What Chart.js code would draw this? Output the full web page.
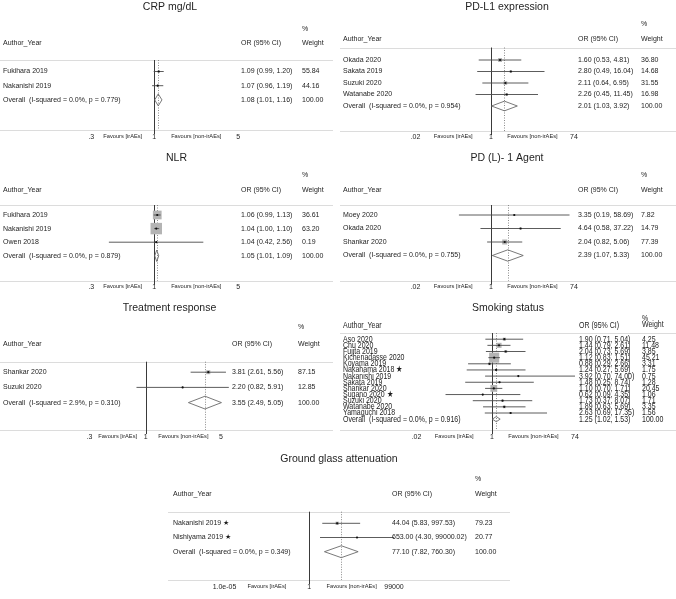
<!DOCTYPE html>
<html>
<head>
<meta charset="utf-8">
<script src="https://cdn.jsdelivr.net/npm/chart.js@4.4.1/dist/chart.umd.min.js"></script>
<style>
  html, body { margin: 0; padding: 0; background: #fff; }
  #wrap { position: relative; width: 676px; height: 599px; overflow: hidden; }
  #wrap canvas { position: absolute; left: 0; top: 0; }
</style>
</head>
<body>
<div id="wrap"></div>
<script>
// ---- data: one block of small arrays per panel ----
var crpStudies = ['Fukihara 2019', 'Nakanishi 2019', 'Overall  (I-squared = 0.0%, p = 0.779)'];
var crpOR = [1.09, 1.07, 1.08];
var crpLow = [0.99, 0.96, 1.01];
var crpHigh = [1.20, 1.19, 1.16];
var crpWeight = [55.84, 44.16, 100.00];
var crpTicks = [0.3, 1, 5];
var crpTickLabels = ['.3', '1', '5'];

var pdl1Studies = ['Okada 2020', 'Sakata 2019', 'Suzuki 2020', 'Watanabe 2020', 'Overall  (I-squared = 0.0%, p = 0.954)'];
var pdl1OR = [1.60, 2.80, 2.11, 2.26, 2.01];
var pdl1Low = [0.53, 0.49, 0.64, 0.45, 1.03];
var pdl1High = [4.81, 16.04, 6.95, 11.45, 3.92];
var pdl1Weight = [36.80, 14.68, 31.55, 16.98, 100.00];
var pdl1Ticks = [0.02, 1, 74];
var pdl1TickLabels = ['.02', '1', '74'];

var nlrStudies = ['Fukihara 2019', 'Nakanishi 2019', 'Owen 2018', 'Overall  (I-squared = 0.0%, p = 0.879)'];
var nlrOR = [1.06, 1.04, 1.04, 1.05];
var nlrLow = [0.99, 1.00, 0.42, 1.01];
var nlrHigh = [1.13, 1.10, 2.56, 1.09];
var nlrWeight = [36.61, 63.20, 0.19, 100.00];
var nlrTicks = [0.3, 1, 5];
var nlrTickLabels = ['.3', '1', '5'];

var agentStudies = ['Moey 2020', 'Okada 2020', 'Shankar 2020', 'Overall  (I-squared = 0.0%, p = 0.755)'];
var agentOR = [3.35, 4.64, 2.04, 2.39];
var agentLow = [0.19, 0.58, 0.82, 1.07];
var agentHigh = [58.69, 37.22, 5.06, 5.33];
var agentWeight = [7.82, 14.79, 77.39, 100.00];
var agentTicks = [0.02, 1, 74];
var agentTickLabels = ['.02', '1', '74'];

var respStudies = ['Shankar 2020', 'Suzuki 2020', 'Overall  (I-squared = 2.9%, p = 0.310)'];
var respOR = [3.81, 2.20, 3.55];
var respLow = [2.61, 0.82, 2.49];
var respHigh = [5.56, 5.91, 5.05];
var respWeight = [87.15, 12.85, 100.00];
var respTicks = [0.3, 1, 5];
var respTickLabels = ['.3', '1', '5'];

var smokeStudies = ['Aso 2020', 'Chu 2020', 'Fujita 2019', 'Kichenadasse 2020', 'Koyama 2019',
  'Nakahama 2018 \u2605', 'Nakanishi 2019', 'Sakata 2019', 'Shankar 2020', 'Sugano 2020 \u2605',
  'Suzuki 2020', 'Watanabe 2020', 'Yamaguchi 2018', 'Overall  (I-squared = 0.0%, p = 0.916)'];
var smokeOR = [1.90, 1.44, 2.04, 1.12, 0.88, 1.24, 3.92, 1.48, 1.10, 0.62, 1.73, 1.89, 2.63, 1.25];
var smokeLow = [0.71, 0.79, 0.73, 0.83, 0.29, 0.27, 0.70, 0.25, 0.70, 0.09, 0.37, 0.63, 0.69, 1.02];
var smokeHigh = [5.04, 2.61, 5.69, 1.51, 2.66, 5.69, 74.00, 8.74, 1.71, 4.35, 8.07, 5.69, 17.35, 1.53];
var smokeWeight = [4.25, 11.48, 3.85, 45.21, 3.31, 1.75, 0.75, 1.28, 20.45, 1.06, 1.71, 3.35, 1.56, 100.00];
var smokeTicks = [0.02, 1, 74];
var smokeTickLabels = ['.02', '1', '74'];

var ggStudies = ['Nakanishi 2019 \u2605', 'Nishiyama 2019 \u2605', 'Overall  (I-squared = 0.0%, p = 0.349)'];
var ggOR = [44.04, 653.00, 77.10];
var ggLow = [5.83, 4.30, 7.82];
var ggHigh = [997.53, 99000.02, 760.30];
var ggWeight = [79.23, 20.77, 100.00];
var ggTicks = [0.00001, 1, 99000];
var ggTickLabels = ['1.0e-05', '1', '99000'];

// ---- layout of each panel on the page ----
var FONT = '"Liberation Sans", Arial, Helvetica, sans-serif';
var panels = [
  { title: 'CRP mg/dL', names: crpStudies, or: crpOR, lo: crpLow, hi: crpHigh, w: crpWeight, ticks: crpTicks, tickLabels: crpTickLabels,
    x0: 0, x1: 333, titleX: 170, titleY: 9.5, colName: 3, colOR: 241, colW: 302, yPct: 29, yHead: 43,
    topLine: 60, axisLine: 130, firstRow: 71.5, rowStep: 14.2, tickY: 137, minPx: 91.3, maxPx: 238.3, boxK: 0.3, sy: 1 },
  { title: 'PD-L1 expression', names: pdl1Studies, or: pdl1OR, lo: pdl1Low, hi: pdl1High, w: pdl1Weight, ticks: pdl1Ticks, tickLabels: pdl1TickLabels,
    x0: 340, x1: 676, titleX: 507, titleY: 10, colName: 343, colOR: 578, colW: 641, yPct: 24.5, yHead: 39.5,
    topLine: 47.5, axisLine: 131, firstRow: 60, rowStep: 11.5, tickY: 136.7, minPx: 415.5, maxPx: 574, boxK: 0.65, sy: 1 },
  { title: 'NLR', names: nlrStudies, or: nlrOR, lo: nlrLow, hi: nlrHigh, w: nlrWeight, ticks: nlrTicks, tickLabels: nlrTickLabels,
    x0: 0, x1: 333, titleX: 176.5, titleY: 161, colName: 3, colOR: 241, colW: 302, yPct: 175, yHead: 190,
    topLine: 205, axisLine: 280.7, firstRow: 215, rowStep: 13.6, tickY: 287, minPx: 91.3, maxPx: 238.3, boxK: 1.44, sy: 1 },
  { title: 'PD (L)- 1 Agent', names: agentStudies, or: agentOR, lo: agentLow, hi: agentHigh, w: agentWeight, ticks: agentTicks, tickLabels: agentTickLabels,
    x0: 340, x1: 676, titleX: 507, titleY: 161, colName: 343, colOR: 578, colW: 641, yPct: 175, yHead: 190,
    topLine: 205, axisLine: 280.7, firstRow: 215, rowStep: 13.5, tickY: 287, minPx: 415.5, maxPx: 574, boxK: 0.57, sy: 1 },
  { title: 'Treatment response', names: respStudies, or: respOR, lo: respLow, hi: respHigh, w: respWeight, ticks: respTicks, tickLabels: respTickLabels,
    x0: 0, x1: 333, titleX: 169.5, titleY: 311, colName: 3, colOR: 232, colW: 298, yPct: 327.5, yHead: 344.5,
    topLine: 361.7, axisLine: 430, firstRow: 372.2, rowStep: 15.2, tickY: 437.3, minPx: 89.5, maxPx: 221, boxK: 0.43, sy: 1 },
  { title: 'Smoking status', names: smokeStudies, or: smokeOR, lo: smokeLow, hi: smokeHigh, w: smokeWeight, ticks: smokeTicks, tickLabels: smokeTickLabels,
    x0: 340, x1: 676, titleX: 508, titleY: 311, colName: 343, colOR: 579, colW: 642, yPct: 319, yHead: 326,
    topLine: 333, axisLine: 430, firstRow: 339.2, rowStep: 6.15, tickY: 437.3, minPx: 416.5, maxPx: 575, boxK: 1.5, sy: 1.25 },
  { title: 'Ground glass attenuation', names: ggStudies, or: ggOR, lo: ggLow, hi: ggHigh, w: ggWeight, ticks: ggTicks, tickLabels: ggTickLabels,
    x0: 168, x1: 510, titleX: 339, titleY: 462, colName: 173, colOR: 392, colW: 475, yPct: 478.7, yHead: 494.5,
    topLine: 511.7, axisLine: 580, firstRow: 523.3, rowStep: 14.2, tickY: 587.3, minPx: 224.5, maxPx: 394, boxK: 0.37, sy: 1 }
];

function txt(ctx, s, x, y, align, size, sy, base) {
  ctx.save();
  ctx.translate(x, y);
  ctx.scale(1, sy || 1);
  ctx.font = size + 'px ' + FONT;
  ctx.fillStyle = '#1e1e1e';
  ctx.textAlign = align;
  ctx.textBaseline = base || 'middle';
  ctx.fillText(s, 0, 0);
  ctx.restore();
}

function seg(ctx, ax, ay, bx, by) {
  ctx.beginPath();
  ctx.moveTo(ax, ay);
  ctx.lineTo(bx, by);
  ctx.stroke();
}

var forestPlugin = {
  id: 'forest',
  beforeDatasetsDraw: function (chart) {
    var p = chart.options.plugins.forest.panel;
    var ctx = chart.ctx, xs = chart.scales.x;
    var n = p.or.length;
    ctx.save();
    ctx.lineWidth = 1;
    ctx.strokeStyle = '#dcdcdc';
    seg(ctx, p.x0, Math.round(p.topLine) + 0.5, p.x1, Math.round(p.topLine) + 0.5);
    seg(ctx, p.x0, Math.round(p.axisLine) + 0.5, p.x1, Math.round(p.axisLine) + 0.5);
    // line of no effect
    var xn = Math.round(xs.getPixelForValue(1)) + 0.5;
    ctx.strokeStyle = '#3a3a3a';
    seg(ctx, xn, p.topLine, xn, p.axisLine + 4);
    // pooled estimate
    var xo = Math.round(xs.getPixelForValue(p.or[n - 1])) + 0.5;
    ctx.strokeStyle = '#8a8a8a';
    ctx.setLineDash([1, 1.5]);
    seg(ctx, xo, p.topLine, xo, p.axisLine);
    ctx.restore();
  },
  afterDatasetsDraw: function (chart) {
    var p = chart.options.plugins.forest.panel;
    var ctx = chart.ctx, xs = chart.scales.x, ys = chart.scales.y;
    var fs = 7;
    txt(ctx, p.title, p.titleX, p.titleY, 'center', 10.5, 1, 'alphabetic');
    txt(ctx, '%', p.colW, p.yPct, 'left', fs, p.sy);
    txt(ctx, 'Author_Year', p.colName, p.yHead, 'left', fs, p.sy);
    txt(ctx, 'OR (95% CI)', p.colOR, p.yHead, 'left', fs, p.sy);
    txt(ctx, 'Weight', p.colW, p.yHead - (p.sy > 1 ? 1 : 0), 'left', fs, p.sy);
    for (var i = 0; i < p.names.length; i++) {
      var y = ys.getPixelForValue(i);
      txt(ctx, p.names[i], p.colName, y, 'left', fs, p.sy);
      txt(ctx, p.or[i].toFixed(2) + ' (' + p.lo[i].toFixed(2) + ', ' + p.hi[i].toFixed(2) + ')', p.colOR, y, 'left', fs, p.sy);
      txt(ctx, p.w[i].toFixed(2), p.colW, y, 'left', fs, p.sy);
    }
    for (var t = 0; t < p.ticks.length; t++) {
      txt(ctx, p.tickLabels[t], xs.getPixelForValue(p.ticks[t]), p.tickY, 'center', fs, 1);
    }
    var xa = xs.getPixelForValue(p.ticks[0]);
    var xn = xs.getPixelForValue(1);
    var xb = xs.getPixelForValue(p.ticks[p.ticks.length - 1]);
    txt(ctx, 'Favours [irAEs]', (xa + xn) / 2, p.tickY - 0.5, 'center', 5.7, 1);
    txt(ctx, 'Favours [non-irAEs]', (xn + xb) / 2, p.tickY - 0.5, 'center', 5.7, 1);
  }
};

function buildPanel(p) {
  var n = p.or.length, last = n - 1;
  var ci = [], est = [];
  for (var i = 0; i < last; i++) {
    ci.push({ x: p.lo[i], y: i }, { x: p.hi[i], y: i }, { x: null, y: null });
    est.push({ x: p.or[i], y: i });
  }
  var h = 0.42;
  var diamond = [
    { x: p.lo[last], y: last }, { x: p.or[last], y: last - h },
    { x: p.hi[last], y: last }, { x: p.or[last], y: last + h },
    { x: p.lo[last], y: last }
  ];
  var canvas = document.createElement('canvas');
  canvas.width = 676;
  canvas.height = 599;
  document.getElementById('wrap').appendChild(canvas);
  new Chart(canvas.getContext('2d'), {
    type: 'scatter',
    data: {
      datasets: [
        { data: est, order: 0, clip: false, pointStyle: 'circle', pointRadius: 1.1,
          backgroundColor: '#111', borderWidth: 0 },
        { data: ci, order: 1, clip: false, showLine: true, spanGaps: false, pointRadius: 0,
          borderColor: '#4a4a4a', borderWidth: 0.9 },
        { data: diamond, order: 1, clip: false, showLine: true, pointRadius: 0, fill: false,
          borderColor: '#6a6a6a', borderWidth: 0.9, tension: 0 },
        { data: est, order: 2, clip: false, pointStyle: 'rect', borderWidth: 0,
          backgroundColor: '#b4b4b4',
          pointRadius: function (c) { return p.boxK * Math.sqrt(p.w[c.dataIndex]) / Math.SQRT1_2 / 2; } }
      ]
    },
    options: {
      responsive: false,
      animation: false,
      events: [],
      layout: {
        padding: { left: p.minPx, right: 676 - p.maxPx, top: p.topLine, bottom: 599 - p.axisLine }
      },
      scales: {
        x: { type: 'logarithmic', display: false, bounds: 'data',
             min: p.ticks[0], max: p.ticks[p.ticks.length - 1] },
        y: { type: 'linear', display: false, reverse: true, bounds: 'data',
             min: (p.topLine - p.firstRow) / p.rowStep, max: (p.axisLine - p.firstRow) / p.rowStep }
      },
      plugins: {
        legend: { display: false },
        tooltip: { enabled: false },
        forest: { panel: p }
      }
    },
    plugins: [forestPlugin]
  });
}

panels.forEach(buildPanel);
</script>
</body>
</html>
